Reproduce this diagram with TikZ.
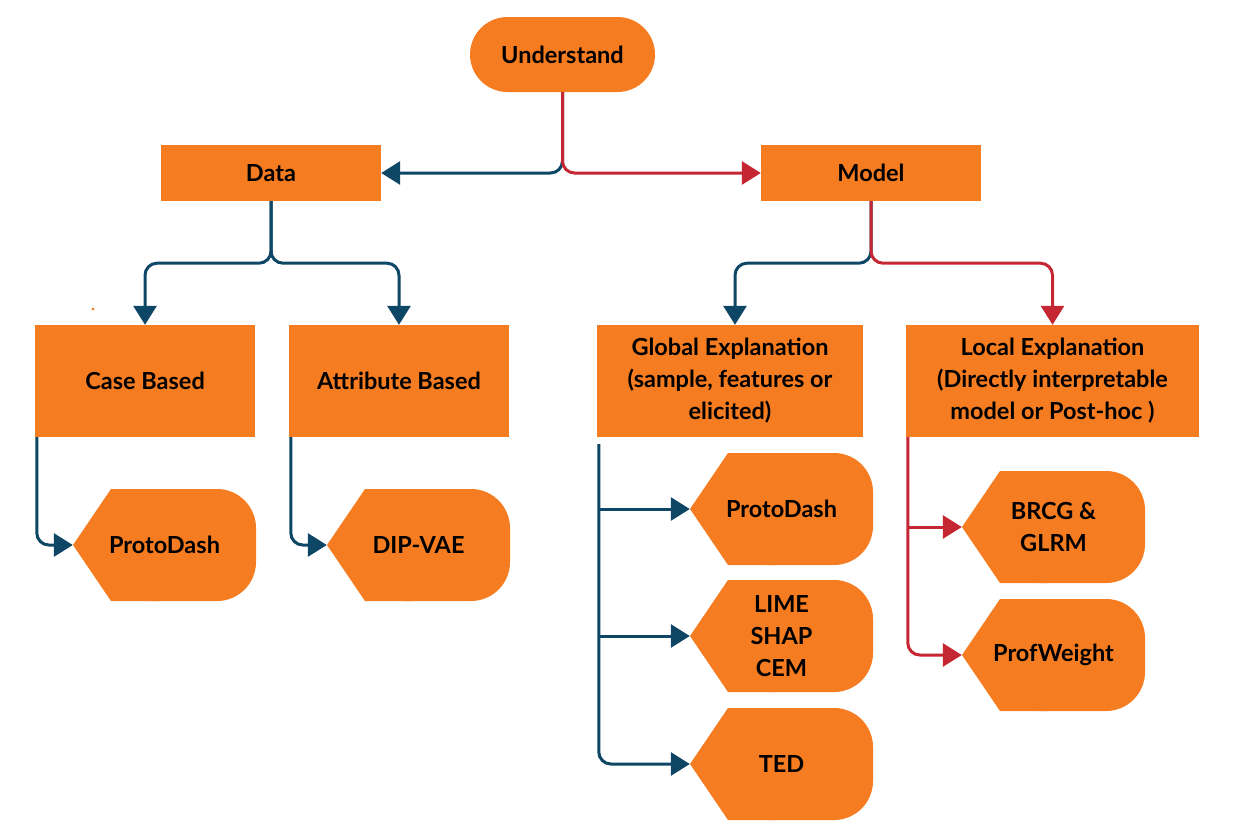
\documentclass[tikz,border=0pt]{standalone}
\usepackage{fontspec}
\setmainfont{Lato}
\usetikzlibrary{arrows.meta,calc}
\definecolor{org}{RGB}{245,124,32}
\definecolor{dblue}{RGB}{14,70,102}
\definecolor{dred}{RGB}{196,38,50}
\begin{document}
\begin{tikzpicture}[x=1pt,y=-1pt,
  txt/.style={font=\fontsize{23.5}{32}\selectfont\bfseries, align=center, text=black},
  box/.style={txt, fill=org, minimum width=220pt, minimum height=56pt, inner sep=0pt},
  bigbox/.style={box, minimum height=112pt},
  disp/.style={txt, minimum width=183pt, minimum height=112pt, inner sep=0pt,
    path picture={
      \fill[org] (path picture bounding box.west)
        -- ($(path picture bounding box.north west)+(38,0)$)
        -- ($(path picture bounding box.north west)+(85,0)$)
        -- ($(path picture bounding box.south west)+(85,0)$)
        -- ($(path picture bounding box.south west)+(38,0)$) -- cycle;
      \fill[org, rounded corners=39pt] ($(path picture bounding box.north west)+(38,0)$)
        rectangle (path picture bounding box.south east);
    }},
  conn/.style={line width=3pt, rounded corners=12pt, -{Triangle[length=19pt,width=23pt]}},
  bl/.style={conn, draw=dblue, color=dblue},
  rd/.style={conn, draw=dred, color=dred}
]
\useasboundingbox (0,0) rectangle (1234,833);

\node[txt, fill=org, minimum width=185pt, minimum height=75pt, inner sep=0pt, rounded corners=37.5pt] (und) at (562.5,54.5) {Understand};
\node[box] (data) at (271,173) {Data};
\node[box] (model) at (871,173) {Model};
\node[bigbox] (case) at (145,381) {Case Based};
\node[bigbox] (attr) at (399,381) {Attribute Based};
\node[bigbox, minimum width=266pt] (glob) at (730,381) {Global Explanation\\(sample, features or\\elicited)};
\node[bigbox, minimum width=293pt] (loc) at (1052.5,381) {Local Explanation\\(Directly interpretable\\model or Post-hoc )};

\node[disp] (pd1) at (164.5,545) {ProtoDash};
\node[disp] (dip) at (418.5,545) {DIP-VAE};
\node[disp] (pd2) at (781.5,509) {ProtoDash};
\node[disp] (lime) at (781.5,636) {LIME\\SHAP\\CEM};
\node[disp] (ted) at (781.5,764) {TED};
\node[disp] (brcg) at (1053.5,527) {BRCG \&\\GLRM};
\node[disp] (prof) at (1053.5,655) {ProfWeight};

\fill[org] (93,309) circle (1.5);

% top split
\draw[bl] (und.south) |- (data.east);
\draw[rd] (und.south) |- (model.west);
% data split
\coordinate (dj) at ($(data.south)+(0,62)$);
\draw[bl] (data.south) -- (dj) -| (case.north);
\draw[bl] (data.south) -- (dj) -| (attr.north);
% model split
\coordinate (mj) at ($(model.south)+(0,62)$);
\coordinate (gn) at ($(glob.north)+(5,0)$);
\draw[bl] (model.south) -- (mj) -| (gn);
\draw[rd] (model.south) -- (mj) -| (loc.north);
% leaves
\coordinate (cs) at ($(case.south west)+(2,0)$);
\draw[bl] (cs) |- (pd1.west);
\coordinate (as) at ($(attr.south west)+(2,0)$);
\draw[bl] (as) |- (dip.west);
\coordinate (gs) at ($(glob.south west)+(2,7)$);
\draw[bl] (gs) |- (ted.west);
\draw[bl] (gs |- pd2.west) -- (pd2.west);
\draw[bl] (gs |- lime.west) -- (lime.west);
\coordinate (ls) at ($(loc.south west)+(2,0)$);
\draw[rd] (ls) |- (prof.west);
\draw[rd] (ls |- brcg.west) -- (brcg.west);
\end{tikzpicture}
\end{document}
